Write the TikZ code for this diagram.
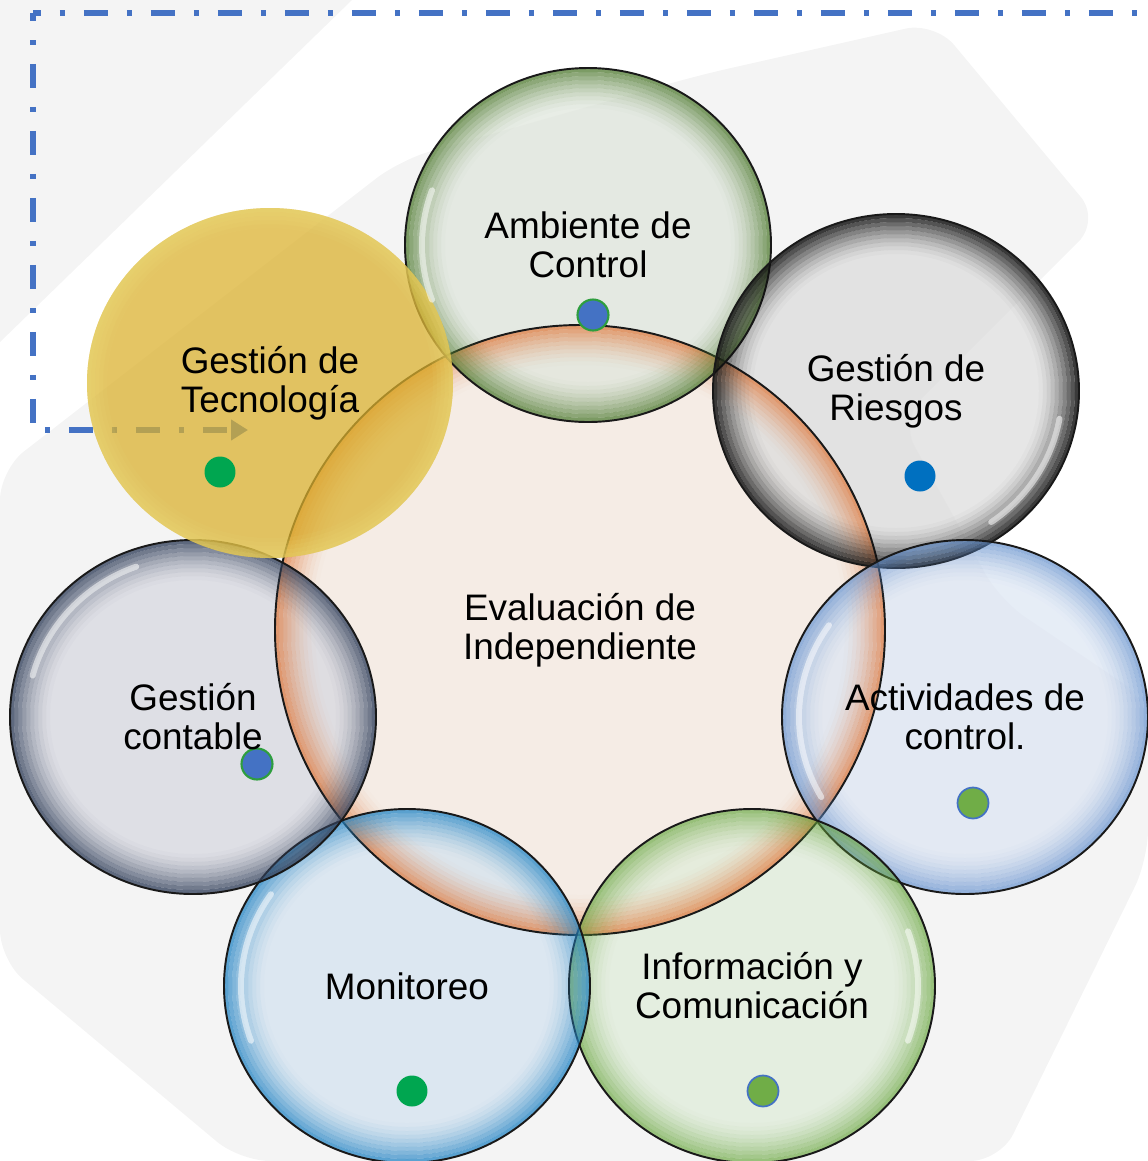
\documentclass[tikz,border=0pt]{standalone}
\usepackage{fontspec}
\setmainfont{Liberation Sans}
\usepackage{tikz}
\usetikzlibrary{arrows.meta, calc}

\definecolor{dashBlue}{HTML}{4472C4}
\definecolor{bgGray}{HTML}{F4F4F4}
\definecolor{dotBlue}{HTML}{4472C4}
\definecolor{dotDeep}{HTML}{0070C0}
\definecolor{dotGreen}{HTML}{00A650}
\definecolor{dotLeaf}{HTML}{70AD47}
\definecolor{ringGreen}{HTML}{2E9E3E}

% bubble colours: inside and edge
\definecolor{evaIn}{HTML}{F6EBE2}\definecolor{evaEdge}{HTML}{E07A3E}
\definecolor{ambIn}{HTML}{DFE6DC}\definecolor{ambEdge}{HTML}{4F7A2F}
\definecolor{rieIn}{HTML}{DCDCDC}\definecolor{rieEdge}{HTML}{101010}
\definecolor{actIn}{HTML}{DDE6F3}\definecolor{actEdge}{HTML}{5E8CCB}
\definecolor{infIn}{HTML}{DFECD9}\definecolor{infEdge}{HTML}{66A33A}
\definecolor{monIn}{HTML}{D3E3F0}\definecolor{monEdge}{HTML}{2485C4}
\definecolor{conIn}{HTML}{D6D8E0}\definecolor{conEdge}{HTML}{34425C}
\definecolor{tecIn}{HTML}{DBB12E}\definecolor{tecEdge}{HTML}{EADB78}

\begin{document}
\begin{tikzpicture}[x=0.02cm, y=-0.02cm, >=stealth,
    flow/.style={draw=dashBlue, line width=0.13cm,
      dash pattern=on 0.48cm off 0.38cm on 0.1cm off 0.38cm, dash phase=0.32cm},
    bubbletext/.style={align=center, text=black, font=\fontsize{21}{22.2}\selectfont},
    dot/.style={circle, inner sep=0pt, minimum size=0.62cm},
    gloss/.style={white, line width=0.12cm, line cap=round, opacity=0.55}]
  \useasboundingbox (0,0) rectangle (1148,1161);

  % Light background shapes
  \fill[bgGray] (0,0) -- (352,0) -- (0,342) -- cycle;
  \fill[bgGray, rounded corners=0.6cm] (0,470) -- (400,160) -- (700,75) -- (935,22)
    -- (1100,220) -- (1060,260) -- (900,420) -- (1000,600) -- (1148,700)
    -- (1148,860) -- (1000,1161) -- (240,1161) -- (0,960) -- cycle;

  % Centres of the bubbles
  \coordinate (eva) at (580,630);
  \coordinate (amb) at (588,245);
  \coordinate (rie) at (896,391);
  \coordinate (act) at (965,717);
  \coordinate (inf) at (752,986);
  \coordinate (mon) at (407,986);
  \coordinate (con) at (193,717);
  \coordinate (tec) at (270,383);

  % Dash-dot frame with its arrow
  \coordinate (corner) at (33,13);
  \coordinate (topEnd) at (1170,13);
  \coordinate (turn) at (33,430);
  \coordinate (tip) at (248,430);
  \draw[flow] (corner) -- (topEnd);
  \draw[flow, -{Triangle[length=0.34cm,width=0.4cm]}] (corner) -- (turn) -- (tip);

  % Bubble fills
  \fill[evaIn, fill opacity=0.8] (eva) circle [radius=305];
  \foreach \b in {amb,rie,act,inf,mon,con}
    \fill[\b In, fill opacity=0.72] (\b) ellipse [x radius=183, y radius=177];

  % Shaded rims and outlines
  \foreach \b/\rx/\ry/\top in {eva/305/305/0.7, amb/183/177/0.7, rie/183/177/0.8,
      act/183/177/0.6, inf/183/177/0.6, mon/183/177/0.7, con/183/177/0.75} {
    \foreach \k [evaluate=\k as \op using {\top*(1-\k/10)^1.6},
                 evaluate=\k as \ra using {\rx-2-4*\k},
                 evaluate=\k as \rb using {\ry-2-4*\k}] in {0,...,9}
      \draw[draw=\b Edge, draw opacity=\op, line width=0.08cm] (\b) ellipse [x radius=\ra, y radius=\rb];
    \draw[black!90, line width=1.1pt] (\b) ellipse [x radius=\rx, y radius=\ry];
  }

  % Yellow bubble on top
  \fill[tecIn, fill opacity=0.74] (tec) ellipse [x radius=183, y radius=175];
  \foreach \k [evaluate=\k as \op using {0.45*(1-\k/5)}] in {0,...,4}
    \draw[draw=tecEdge, draw opacity=\op, line width=0.08cm] (tec) ellipse [x radius=181-4*\k, y radius=173-4*\k];

  % Glossy highlights
  \foreach \b/\s/\e in {con/195/250, mon/160/215, act/150/215, amb/160/200, inf/-20/20, rie/10/55}
    \draw[gloss] (\b) ++(\s:166 and 160) arc[start angle=\s, end angle=\e, x radius=166, y radius=160];

  % Dots
  \node[dot, fill=dotBlue, draw=ringGreen, line width=1.2pt] (ambDot) at (593,315) {};
  \node[dot, fill=dotDeep] (rieDot) at (920,476) {};
  \node[dot, fill=dotLeaf, draw=dotBlue, line width=1pt] (actDot) at (973,803) {};
  \node[dot, fill=dotLeaf, draw=dotBlue, line width=1pt] (infDot) at (763,1091) {};
  \node[dot, fill=dotGreen] (monDot) at (412,1091) {};
  \node[dot, fill=dotBlue, draw=ringGreen, line width=1.2pt] (conDot) at (257,764) {};
  \node[dot, fill=dotGreen] (tecDot) at (220,472) {};

  % Texts
  \node[bubbletext] (evaText) at (eva) {Evaluación de\\Independiente};
  \node[bubbletext] (ambText) at (amb) {Ambiente de\\Control};
  \node[bubbletext] (rieText) at (rie) {Gestión de\\Riesgos};
  \node[bubbletext] (actText) at (act) {Actividades de\\control.};
  \node[bubbletext] (infText) at (inf) {Información y\\Comunicación};
  \node[bubbletext] (monText) at (mon) {Monitoreo};
  \node[bubbletext] (conText) at (con) {Gestión\\contable};
  \node[bubbletext] (tecText) at (tec) {Gestión de\\Tecnología};
\end{tikzpicture}
\end{document}
